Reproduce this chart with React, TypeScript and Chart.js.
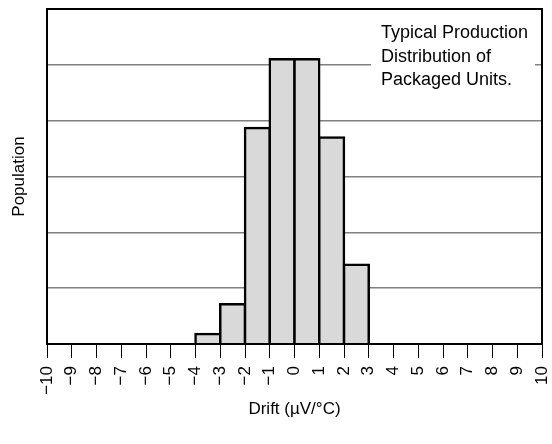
import React, { useEffect, useRef } from "react";
import { Chart, registerables } from "chart.js";

Chart.register(...registerables);

// Histogram data: bin start (µV/°C) and relative population
const binStarts = [-4, -3, -2, -1, 0, 1, 2];
const populations = [0.18, 0.71, 3.87, 5.1, 5.1, 3.7, 1.42];
const binWidth = 1;

const xMin = -10;
const xMax = 10;
const yMin = 0;
const yMax = 6;

const xTitle = "Drift (µV/°C)";
const yTitle = "Population";
const noteLines = ["Typical Production", "Distribution of", "Packaged Units."];

const FONT = "'Liberation Sans', Arial, Helvetica, sans-serif";

export default function App() {
  const ref = useRef<HTMLCanvasElement | null>(null);

  useEffect(() => {
    const canvas = ref.current;
    if (!canvas) return;

    const framePlugin = {
      id: "frameAndNote",
      afterDraw(chart: any) {
        const { ctx, chartArea } = chart;
        ctx.save();
        // white box behind note
        ctx.fillStyle = "#ffffff";
        ctx.fillRect(371, 14, 164, 82);
        ctx.fillStyle = "#000000";
        ctx.font = `18px ${FONT}`;
        ctx.textAlign = "left";
        ctx.textBaseline = "alphabetic";
        const baselines = [38, 61.5, 85];
        noteLines.forEach((t, i) => ctx.fillText(t, 381, baselines[i]));
        // frame
        ctx.strokeStyle = "#000000";
        ctx.lineWidth = 2;
        ctx.strokeRect(
          chartArea.left,
          chartArea.top,
          chartArea.right - chartArea.left,
          chartArea.bottom - chartArea.top
        );
        ctx.restore();
      },
    };

    const chart = new Chart(canvas, {
      type: "bar",
      data: {
        datasets: [
          {
            data: binStarts.map((s, i) => ({ x: s + binWidth / 2, y: populations[i] })),
            backgroundColor: "#d9d9d9",
            borderColor: "#000000",
            borderWidth: 2.5,
            inflateAmount: 1.25,
            barPercentage: 1,
            categoryPercentage: 1,
          } as any,
        ],
      },
      options: {
        responsive: false,
        animation: false,
        devicePixelRatio: 1,
        layout: { padding: { top: 9, right: 10, left: 0, bottom: 0 } },
        plugins: {
          legend: { display: false },
          tooltip: { enabled: false },
        },
        scales: {
          x: {
            type: "linear",
            min: xMin,
            max: xMax,
            offset: false,
            afterFit: (s: any) => {
              s.height = 100;
              s.paddingLeft = 0;
              s.paddingRight = 0;
            },
            grid: {
              offset: false,
              drawOnChartArea: false,
              drawTicks: true,
              tickLength: 14,
              color: "#000000",
              lineWidth: 1,
            },
            border: { display: true, color: "#000000", width: 2 },
            ticks: {
              stepSize: 1,
              autoSkip: false,
              minRotation: 90,
              maxRotation: 90,
              padding: 8,
              color: "#000000",
              font: { family: FONT, size: 17 },
              callback: (v: any) => String(v).replace("-", "\u2212"),
            },
            title: {
              display: true,
              text: xTitle,
              color: "#000000",
              font: { family: FONT, size: 17 },
              padding: { top: 0, bottom: 24 },
            },
          },
          y: {
            type: "linear",
            min: yMin,
            max: yMax,
            afterFit: (s: any) => {
              s.width = 47;
              s.paddingTop = 0;
              s.paddingBottom = 0;
            },
            grid: {
              drawTicks: false,
              color: "#808080",
              lineWidth: 1.5,
            },
            border: { display: true, color: "#000000", width: 2 },
            ticks: { stepSize: 1, display: false },
            title: {
              display: true,
              text: yTitle,
              color: "#000000",
              font: { family: FONT, size: 17 },
              padding: { top: 9, bottom: 0 },
            },
          },
        },
      } as any,
      plugins: [framePlugin],
    });

    return () => chart.destroy();
  }, []);

  return (
    <div style={{ position: "absolute", left: 0, top: 0, width: 552, height: 444, background: "#fff" }}>
      <canvas ref={ref} width={552} height={444} style={{ display: "block", width: 552, height: 444 }} />
    </div>
  );
}
